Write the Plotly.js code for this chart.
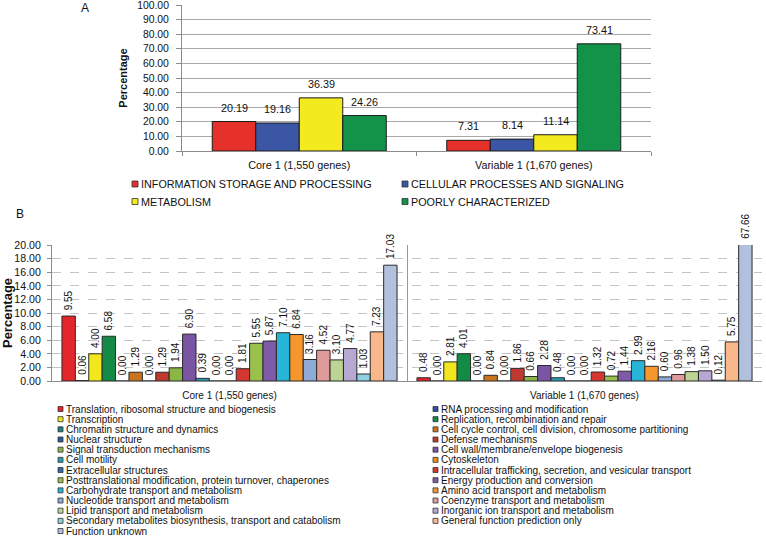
<!DOCTYPE html>
<html><head><meta charset="utf-8">
<script src="https://cdn.plot.ly/plotly-3.0.1.min.js"></script>
<style>html,body{margin:0;padding:0;background:#fff}#chart{width:766px;height:537px}</style>
</head><body><div id="chart"></div>
<script>
// ---------- DATA ----------
const groups = ['Core 1 (1,550 genes)', 'Variable 1 (1,670 genes)'];

// Panel A
const aSeries = ['INFORMATION STORAGE AND PROCESSING', 'CELLULAR PROCESSES AND SIGNALING', 'METABOLISM', 'POORLY CHARACTERIZED'];
const aCore = [20.19, 19.16, 36.39, 24.26];
const aVariable = [7.31, 8.14, 11.14, 73.41];
const aColors = ['#E5312A', '#3A56A5', '#F3EA1F', '#13924A'];

// Panel B
const bCategories = [
  'Translation, ribosomal structure and biogenesis',
  'RNA processing and modification',
  'Transcription',
  'Replication, recombination and repair',
  'Chromatin structure and dynamics',
  'Cell cycle control, cell division, chromosome partitioning',
  'Nuclear structure',
  'Defense mechanisms',
  'Signal transduction mechanisms',
  'Cell wall/membrane/envelope biogenesis',
  'Cell motility',
  'Cytoskeleton',
  'Extracellular structures',
  'Intracellular trafficking, secretion, and vesicular transport',
  'Posttranslational modification, protein turnover, chaperones',
  'Energy production and conversion',
  'Carbohydrate transport and metabolism',
  'Amino acid transport and metabolism',
  'Nucleotide transport and metabolism',
  'Coenzyme transport and metabolism',
  'Lipid transport and metabolism',
  'Inorganic ion transport and metabolism',
  'Secondary metabolites biosynthesis, transport and catabolism',
  'General function prediction only',
  'Function unknown'
];
const bCore = [9.55, 0.06, 4.00, 6.58, 0.00, 1.29, 0.00, 1.29, 1.94, 6.90, 0.39, 0.00, 0.00, 1.81, 5.55, 5.87, 7.10, 6.84, 3.16, 4.52, 3.10, 4.77, 1.03, 7.23, 17.03];
const bVariable = [0.48, 0.00, 2.81, 4.01, 0.00, 0.84, 0.00, 1.86, 0.66, 2.28, 0.48, 0.00, 0.00, 1.32, 0.72, 1.44, 2.99, 2.16, 0.60, 0.96, 1.38, 1.50, 0.12, 5.75, 67.66];
const bColors = [
  '#E2262B', '#2F4E9E', '#F2E71C', '#138A45', '#1E7F8C',
  '#C9741F', '#2A5A9C', '#BE3A31', '#8AB646', '#7A55A4',
  '#2A9DB4', '#F08C22', '#3A66AE', '#D5362F', '#9AC04C',
  '#7E5AA9', '#27B5D7', '#F5962E', '#8EAAD7', '#DE9B99',
  '#BCD594', '#B7A8D3', '#8ED0E1', '#F9B78C', '#B0C0DD'
];

// ---------- LAYOUT CONSTANTS (pixels) ----------
const W = 766, H = 537;
const FONT = 'Liberation Sans, Arial, sans-serif';
const px = x => x / W;
const py = y => 1 - y / H;
const A_BOX = {l: 182, r: 651, t: 5, b: 151};
const B_BOX = {l: 52, r: 762, t: 245, b: 381};
const A_MAX = 100;
const A_BAR_W = 0.1855;
const B_GAP = 0.056;
const B_MAX = 20;
const NBSP = '\u00a0';

const data = [];
const annotations = [];
const shapes = [];

// Panel A bars (value labels as annotations above each bar)
const aOffset = i => -2 * A_BAR_W + i * A_BAR_W;
aSeries.forEach((name, i) => {
  const vals = [aCore[i], aVariable[i]];
  data.push({
    type: 'bar', name: name, x: groups, y: vals, xaxis: 'x', yaxis: 'y',
    width: A_BAR_W, offset: aOffset(i),
    marker: {color: aColors[i], line: {color: '#1a1a1a', width: 1}},
    hoverinfo: 'x+y+name'
  });
  vals.forEach((v, j) => {
    annotations.push({
      xref: 'x', yref: 'y', x: j + aOffset(i) + A_BAR_W / 2, y: v,
      text: v.toFixed(2), showarrow: false, xanchor: 'center', yanchor: 'bottom', yshift: 6,
      font: {family: FONT, size: 10.8, color: '#111'}
    });
  });
});

// Panel B bars
const nB = bCategories.length;
const bOffset = i => -(1 - B_GAP) / 2 + (i + 0.5) * (1 - B_GAP) / nB;
bCategories.forEach((name, i) => {
  const vals = [bCore[i], bVariable[i]];
  const over = vals.some(v => v > B_MAX);
  data.push({
    type: 'bar', name: name, x: groups, y: vals, xaxis: 'x2', yaxis: 'y2',
    marker: {color: bColors[i], line: {color: '#2a2a2a', width: 1}},
    text: over ? vals.map(() => '') : vals.map(v => NBSP + v.toFixed(2)),
    textposition: 'outside', textangle: -90, constraintext: 'none',
    textfont: {family: FONT, size: 10, color: '#111'},
    cliponaxis: over, hoverinfo: 'x+y+name'
  });
  if (over) {
    vals.forEach((v, j) => {
      annotations.push({
        xref: 'x2', yref: 'y2', x: j + bOffset(i), y: Math.min(v, B_MAX),
        text: v.toFixed(2), textangle: -90, showarrow: false,
        xanchor: 'center', yanchor: 'bottom', yshift: 4,
        font: {family: FONT, size: 10, color: '#111'}
      });
    });
  }
});

// Panel labels
annotations.push({xref: 'paper', yref: 'paper', x: px(85), y: py(8.5), text: 'A', showarrow: false,
  xanchor: 'center', yanchor: 'middle', font: {family: FONT, size: 12, color: '#111'}});
annotations.push({xref: 'paper', yref: 'paper', x: px(20), y: py(214), text: 'B', showarrow: false,
  xanchor: 'center', yanchor: 'middle', font: {family: FONT, size: 12, color: '#111'}});

// Legend builder (row-wise two columns)
function legend(names, colors, colX, y0, dy, sq, fontSize) {
  names.forEach((name, i) => {
    const row = Math.floor(i / 2), col = i % 2;
    const cy = y0 + row * dy;
    const x0 = colX[col];
    shapes.push({type: 'rect', xref: 'paper', yref: 'paper',
      x0: px(x0), x1: px(x0 + sq), y0: py(cy + sq / 2), y1: py(cy - sq / 2),
      fillcolor: colors[i], line: {color: '#333', width: 0.8}});
    annotations.push({xref: 'paper', yref: 'paper', x: px(x0 + sq + 0.5), y: py(cy),
      text: name, showarrow: false, xanchor: 'left', yanchor: 'middle',
      font: {family: FONT, size: fontSize, color: '#111'}});
  });
}
legend(aSeries, aColors, [132, 402], 184, 17.5, 6, 10.8);
legend(bCategories, bColors, [58, 433], 409, 10.17, 5, 10);

const layout = {
  width: W, height: H,
  margin: {l: 0, r: 0, t: 0, b: 0},
  paper_bgcolor: '#fff', plot_bgcolor: 'rgba(0,0,0,0)',
  barmode: 'group', bargap: B_GAP, bargroupgap: 0,
  showlegend: false,
  font: {family: FONT, size: 11, color: '#111'},
  xaxis: {
    domain: [px(A_BOX.l), px(A_BOX.r)], anchor: 'y', type: 'category',
    showline: true, linecolor: '#8c8c8c', linewidth: 1,
    ticks: 'outside', tickson: 'boundaries', ticklen: 4, tickcolor: '#8c8c8c',
    ticklabelstandoff: 4,
    showgrid: false, tickfont: {family: FONT, size: 10.8, color: '#111'}
  },
  yaxis: {
    domain: [py(A_BOX.b), py(A_BOX.t)], anchor: 'x', range: [0, A_MAX + 0.001],
    tick0: 0, dtick: 10, ticklabeloverflow: 'allow',
    tickformat: '.2f', showgrid: true, gridcolor: '#a8a8a8', zeroline: false,
    showline: true, linecolor: '#8c8c8c', ticks: 'outside', ticklen: 5, tickcolor: '#8c8c8c',
    ticklabelstandoff: 5,
    tickfont: {family: FONT, size: 10.4, color: '#111'},
    title: {text: '<b>Percentage</b>', font: {family: FONT, size: 11, color: '#111'}, standoff: 7}
  },
  xaxis2: {
    domain: [px(B_BOX.l), px(B_BOX.r)], anchor: 'y2', type: 'category',
    showline: true, linecolor: '#8c8c8c', linewidth: 1,
    ticks: '', tickson: 'boundaries', showgrid: true, gridcolor: '#9a9a9a',
    ticklabelstandoff: 5,
    tickfont: {family: FONT, size: 10, color: '#111'}
  },
  yaxis2: {
    domain: [py(B_BOX.b), py(B_BOX.t)], anchor: 'x2', range: [0, B_MAX], dtick: 2,
    ticklabeloverflow: 'allow',
    tickformat: '.2f', showgrid: true, gridcolor: '#c4c4c4', griddash: 'dash', zeroline: false,
    showline: true, linecolor: '#8c8c8c', ticks: 'outside', ticklen: 4, tickcolor: '#8c8c8c',
    ticklabelstandoff: 4,
    tickfont: {family: FONT, size: 10.6, color: '#111'},
    title: {text: '<b>Percentage</b>', font: {family: FONT, size: 13, color: '#111'}, standoff: 3}
  },
  annotations: annotations,
  shapes: shapes
};

Plotly.newPlot('chart', data, layout, {displayModeBar: false, responsive: false});
</script>
</body></html>
